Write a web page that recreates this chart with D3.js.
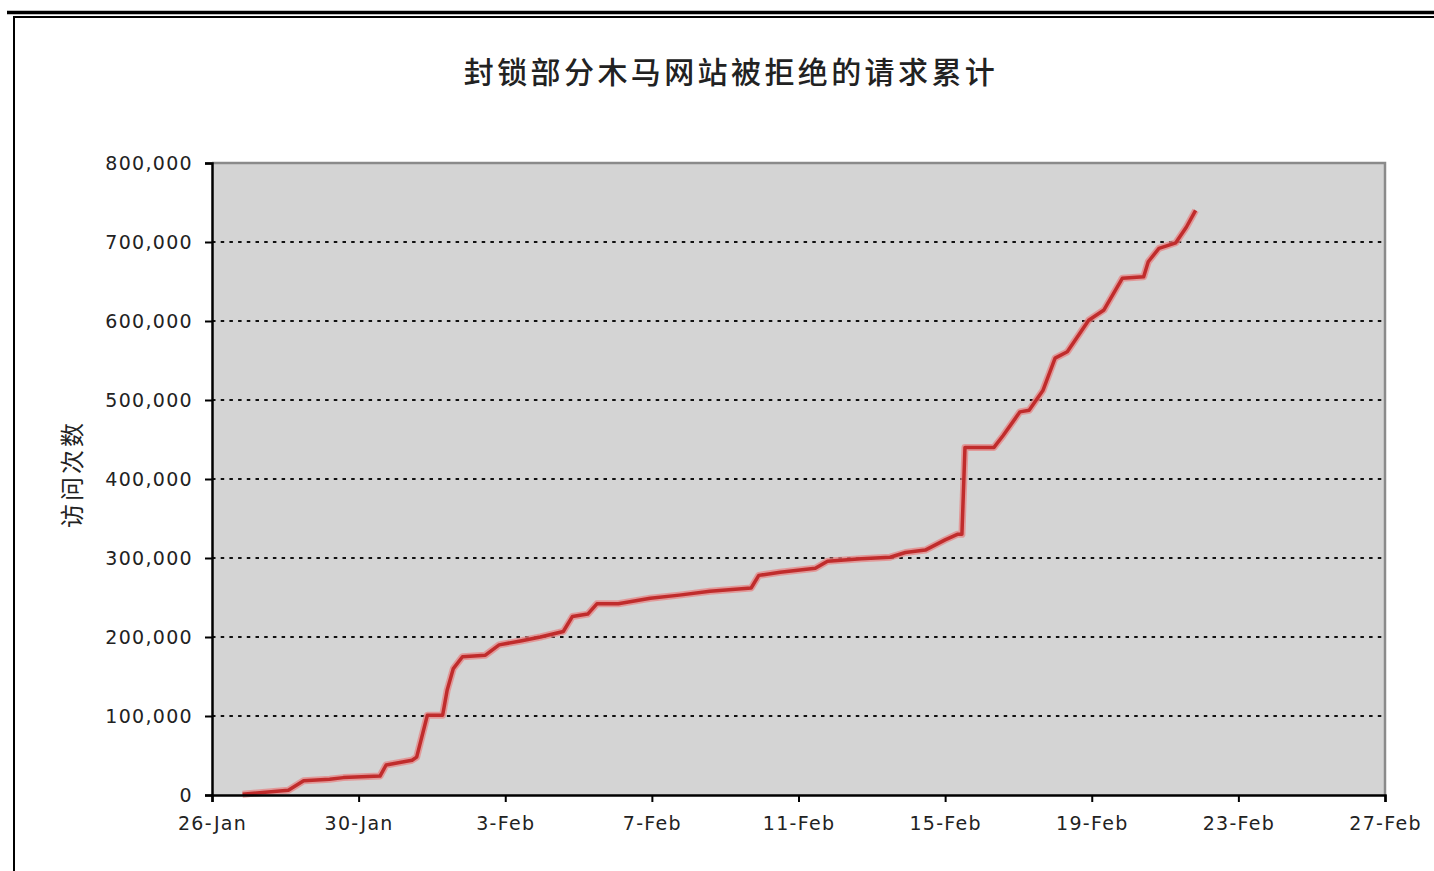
<!DOCTYPE html>
<html>
<head>
<meta charset="utf-8">
<script src="https://cdn.jsdelivr.net/npm/d3@7"></script>
<style>
  body { margin: 0; background: #fff; }
  .tick text { font-family: "DejaVu Sans", Verdana, sans-serif; }
</style>
</head>
<body>
<div id="chart"></div>
<script>
// cumulative blocked requests
const title = "封锁部分木马网站被拒绝的请求累计";
const yLabel = "访问次数";
const times = [
  "01-26 20:00", "01-28 02:00", "01-28 12:00", "01-29 05:00", "01-29 14:00",
  "01-30 14:00", "01-30 18:00", "01-31 11:00", "01-31 14:00", "01-31 21:00",
  "02-01 07:00", "02-01 10:00", "02-01 14:00", "02-01 20:00", "02-02 11:00",
  "02-02 20:00", "02-03 10:00", "02-03 23:00", "02-04 14:00", "02-04 20:00",
  "02-05 06:00", "02-05 12:00", "02-06 02:00", "02-06 23:00", "02-07 18:00",
  "02-08 14:00", "02-09 17:00", "02-09 22:00", "02-10 12:00", "02-11 11:00",
  "02-11 19:00", "02-12 17:00", "02-13 12:00", "02-13 22:00", "02-14 11:00",
  "02-15 00:00", "02-15 08:00", "02-15 11:00", "02-15 13:00", "02-16 08:00",
  "02-16 14:00", "02-17 01:00", "02-17 07:00", "02-17 16:00", "02-18 00:00",
  "02-18 08:00", "02-18 22:00", "02-19 08:00", "02-19 20:00", "02-20 10:00",
  "02-20 13:00", "02-20 20:00", "02-21 07:00", "02-21 14:00", "02-21 20:00"
];
const counts = [
  1000, 6000, 18000, 20000, 22000,
  24000, 38000, 44000, 48000, 101000,
  101000, 133000, 160000, 175000, 177000,
  190000, 195000, 200000, 207000, 226000,
  229000, 242000, 242000, 249000, 253000,
  258000, 262000, 278000, 282000, 287000,
  296000, 299000, 301000, 307000, 310000,
  323000, 330000, 330000, 440000, 440000,
  455000, 485000, 487000, 512000, 553000,
  561000, 601000, 614000, 654000, 656000,
  675000, 692000, 699000, 719000, 740000
];
const xTickDays = ["01-26", "01-30", "02-03", "02-07", "02-11", "02-15", "02-19", "02-23", "02-27"];
const yTicks = [0, 100000, 200000, 300000, 400000, 500000, 600000, 700000, 800000];

const parse = d3.timeParse("%Y-%m-%d %H:%M");
const toDate = s => parse("2009-" + s);
const data = times.map((t, i) => ({ t: toDate(t), v: counts[i] }));
const xTicks = xTickDays.map(d => toDate(d + " 00:00"));

const W = 1434, H = 871;
const m = { left: 212, right: 49, top: 163, bottom: 76 };
const innerW = W - m.left - m.right;
const innerH = H - m.top - m.bottom;

const svg = d3.select("#chart").append("svg")
    .attr("width", W).attr("height", H);

// outer frame lines
svg.append("line").attr("x1", 7).attr("x2", W).attr("y1", 12.5).attr("y2", 12.5)
    .attr("stroke", "#000").attr("stroke-width", 3.5);
svg.append("line").attr("x1", 13).attr("x2", W).attr("y1", 17).attr("y2", 17)
    .attr("stroke", "#000").attr("stroke-width", 2);
svg.append("line").attr("x1", 14).attr("x2", 14).attr("y1", 16).attr("y2", H)
    .attr("stroke", "#000").attr("stroke-width", 2);

svg.append("text")
    .attr("x", 731).attr("y", 83)
    .attr("text-anchor", "middle")
    .attr("font-family", "Noto Sans CJK SC")
    .attr("font-size", 30).attr("letter-spacing", 3.4)
    .attr("font-weight", 500)
    .attr("fill", "#222")
    .text(title);

svg.append("text")
    .attr("transform", "translate(81,474) rotate(-90)")
    .attr("text-anchor", "middle")
    .attr("font-family", "Noto Sans CJK SC")
    .attr("font-size", 24).attr("letter-spacing", 3)
    .attr("fill", "#222")
    .text(yLabel);

const x = d3.scaleTime().domain([xTicks[0], xTicks[xTicks.length - 1]]).range([0, innerW]);
const y = d3.scaleLinear().domain([0, 800000]).range([innerH, 0]);

const plot = svg.append("g").attr("transform", `translate(${m.left},${m.top})`);

plot.append("rect")
    .attr("width", innerW).attr("height", innerH)
    .attr("fill", "#d4d4d4");

// top and right border of the plot area
plot.append("path")
    .attr("d", `M0,0H${innerW}V${innerH}`)
    .attr("fill", "none").attr("stroke", "#8a8a8a").attr("stroke-width", 2.5);

// dotted gridlines
plot.selectAll(".grid").data(yTicks.slice(1, -1)).join("line")
    .attr("x1", 0).attr("x2", innerW)
    .attr("y1", d => y(d)).attr("y2", d => y(d))
    .attr("stroke", "#111").attr("stroke-width", 2.2)
    .attr("stroke-dasharray", "3.5,5.2");

const line = d3.line().x(d => x(d.t)).y(d => y(d.v));
plot.append("path").datum(data)
    .attr("d", line)
    .attr("fill", "none").attr("stroke", "#e58585").attr("stroke-width", 7)
    .attr("stroke-linejoin", "round").attr("opacity", 0.75);
plot.append("path").datum(data)
    .attr("d", line)
    .attr("fill", "none").attr("stroke", "#c02c2c").attr("stroke-width", 3.5)
    .attr("stroke-linejoin", "round");

const yAxis = plot.append("g")
    .call(d3.axisLeft(y).tickValues(yTicks).tickFormat(d3.format(",")).tickSize(7).tickPadding(12));
const xAxis = plot.append("g")
    .attr("transform", `translate(0,${innerH})`)
    .call(d3.axisBottom(x).tickValues(xTicks).tickFormat(d3.timeFormat("%-d-%b")).tickSize(7).tickPadding(15));

[yAxis, xAxis].forEach(a => {
  a.select(".domain").attr("stroke", "#000").attr("stroke-width", 2.5);
  a.selectAll(".tick line").attr("stroke", "#000").attr("stroke-width", 2);
  a.selectAll(".tick text")
      .attr("font-size", 19).attr("letter-spacing", 1.3)
      .attr("fill", "#222");
});
yAxis.selectAll(".tick text").attr("dy", "0.36em");
</script>
</body>
</html>
